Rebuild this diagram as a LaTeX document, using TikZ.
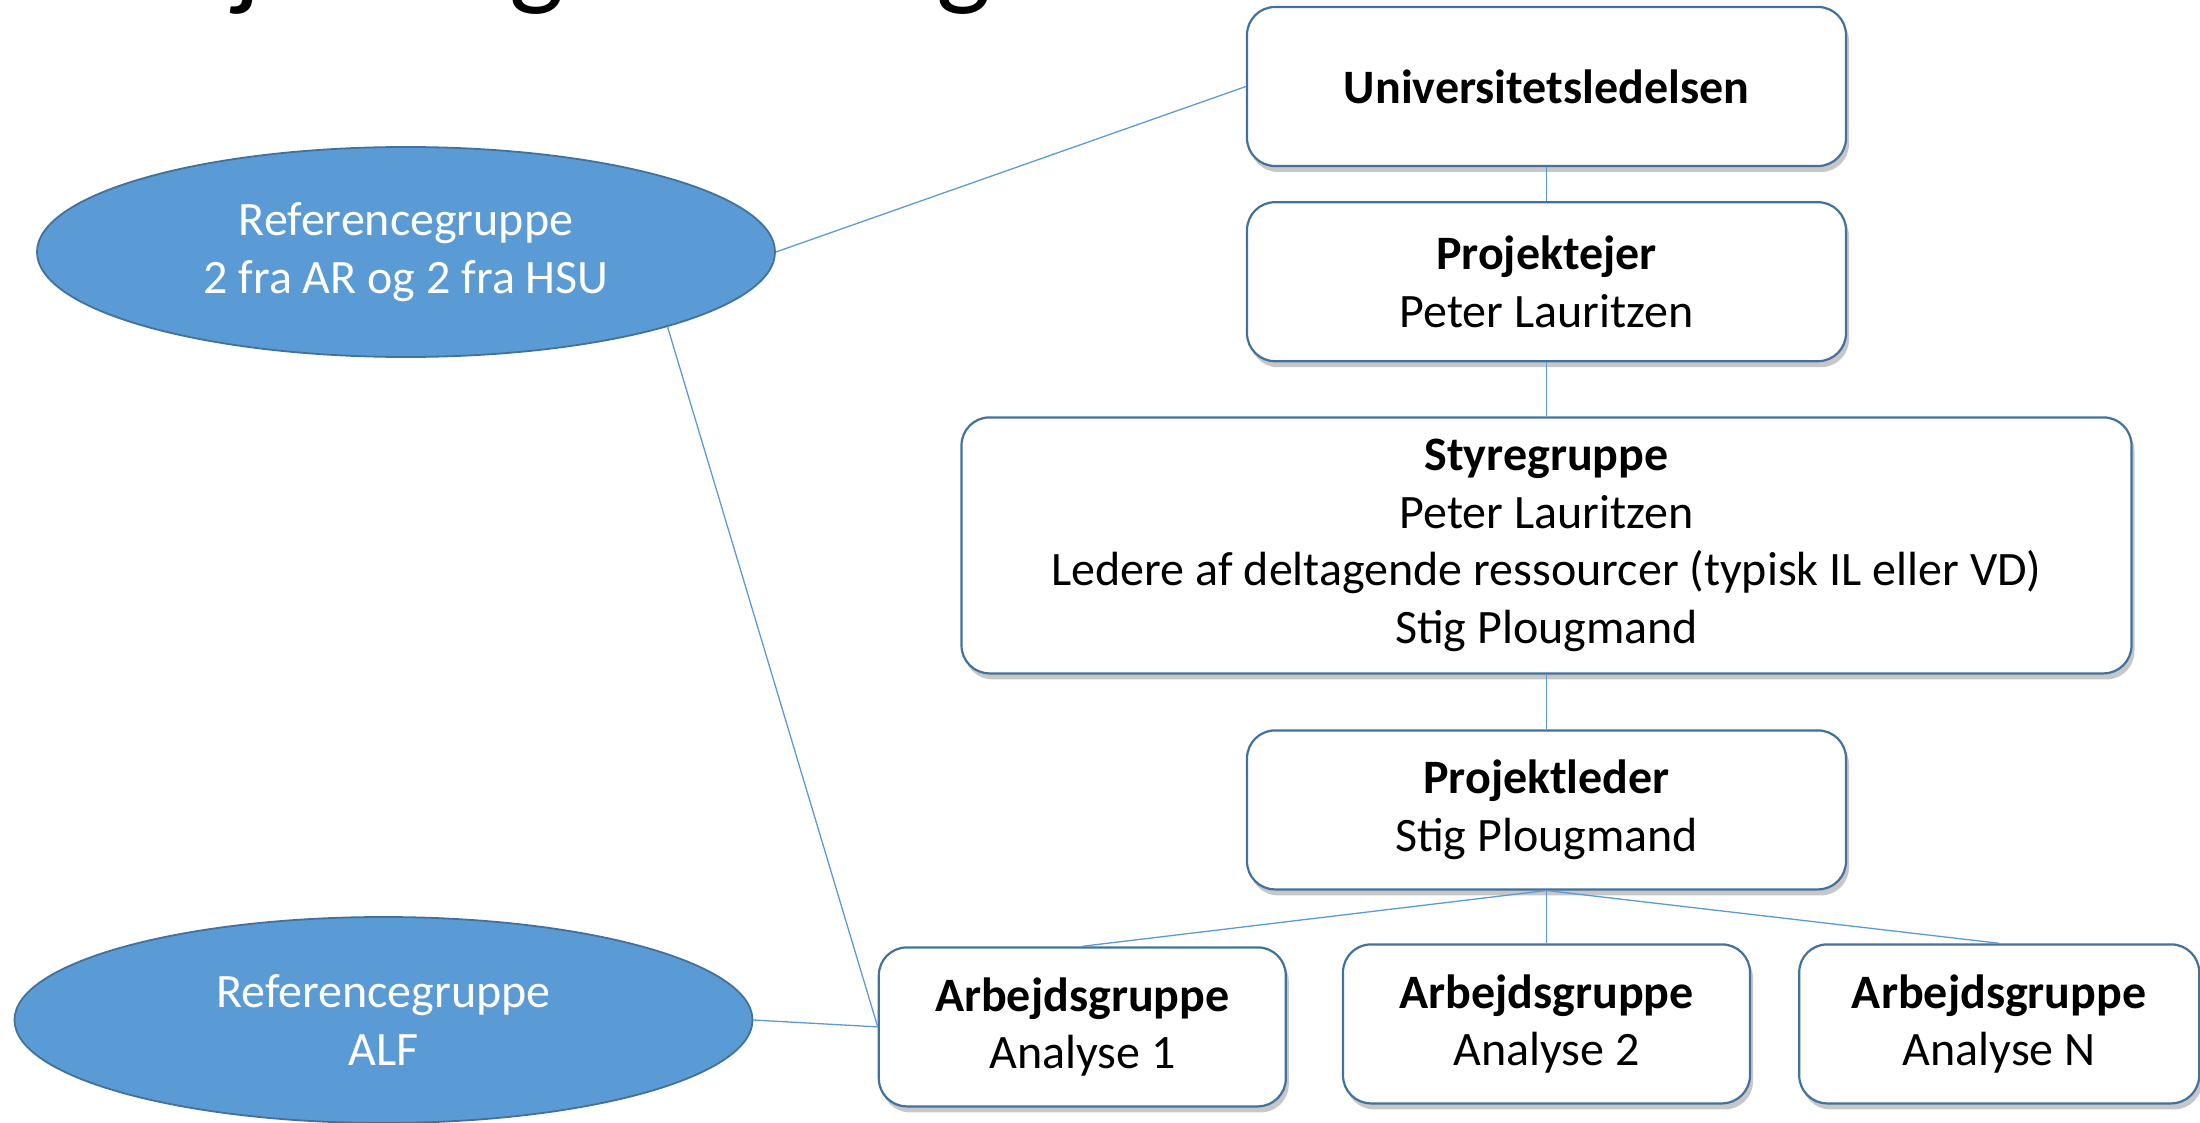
\documentclass[tikz,border=0pt]{standalone}
\usepackage{fontspec}
\setmainfont{Carlito}
\usetikzlibrary{positioning,shapes.geometric,shadows}
\definecolor{edgeblue}{HTML}{41719C}
\definecolor{fillblue}{HTML}{5B9BD5}
\tikzset{
  box/.style={draw=edgeblue, line width=2.2pt, fill=white, rounded corners=28pt,
    align=center, inner sep=0pt, minimum width=599pt, minimum height=159pt,
    drop shadow={shadow xshift=3pt, shadow yshift=-6pt, opacity=0.22, fill=black}},
  refgroup/.style={ellipse, draw=edgeblue, line width=1.8pt, fill=fillblue,
    text=white, align=center, inner sep=0pt, minimum width=738pt, minimum height=210pt},
  link/.style={draw=fillblue, line width=1.3pt}
}

\begin{document}
\begin{tikzpicture}[x=1pt, y=1pt, font=\fontsize{48}{57.5}\selectfont]
    \useasboundingbox (0,0) rectangle (2200,-1123);
    % title, cut off by the page
    \node[anchor=base west, inner sep=0pt, font=\fontsize{116}{139}\selectfont] (title) at (74,5) {Projektorganisering};
    % chain of boxes
    \node[box] (univ) at (1546.5,-86.5) {\textbf{Universitetsledelsen}};
    \node[box] (ejer) [below=34pt of univ] {\textbf{Projektejer}\\Peter Lauritzen};
    \node[box, minimum width=1170pt, minimum height=256pt] (styre) [below=54pt of ejer]
        {\textbf{Styregruppe}\\Peter Lauritzen\\Ledere af deltagende ressourcer (typisk IL eller VD)\\Stig Plougmand};
    \node[box] (leder) [below=54.8pt of styre] {\textbf{Projektleder}\\Stig Plougmand};
    \node[box, minimum width=407pt] (arb2) [below=52.8pt of leder] {\textbf{Arbejdsgruppe}\\Analyse 2};
    \node[box, minimum width=407pt] (arb1) [left=55pt of arb2, yshift=-3pt] {\textbf{Arbejdsgruppe}\\Analyse 1};
    \node[box, minimum width=400pt] (arbn) [right=47pt of arb2] {\textbf{Arbejdsgruppe}\\Analyse N};
    % reference groups
    \node[refgroup] (ref1) at (406,-252) {Referencegruppe\\2 fra AR og 2 fra HSU};
    \node[refgroup, minimum height=206pt] (ref2) at (383.5,-1020) {Referencegruppe\\ALF};
    % connectors
    \draw[link] (univ.south) -- (ejer.north);
    \draw[link] (ejer.south) -- (styre.north);
    \draw[link] (styre.south) -- (leder.north);
    \draw[link] (leder.south) -- (arb1.north);
    \draw[link] (leder.south) -- (arb2.north);
    \draw[link] (leder.south) -- (arbn.north);
    \draw[link] (ref1.east) -- (univ.west);
    \draw[link] (ref1.south east) -- (arb1.west);
    \draw[link] (ref2.east) -- (arb1.west);
\end{tikzpicture}
\end{document}
